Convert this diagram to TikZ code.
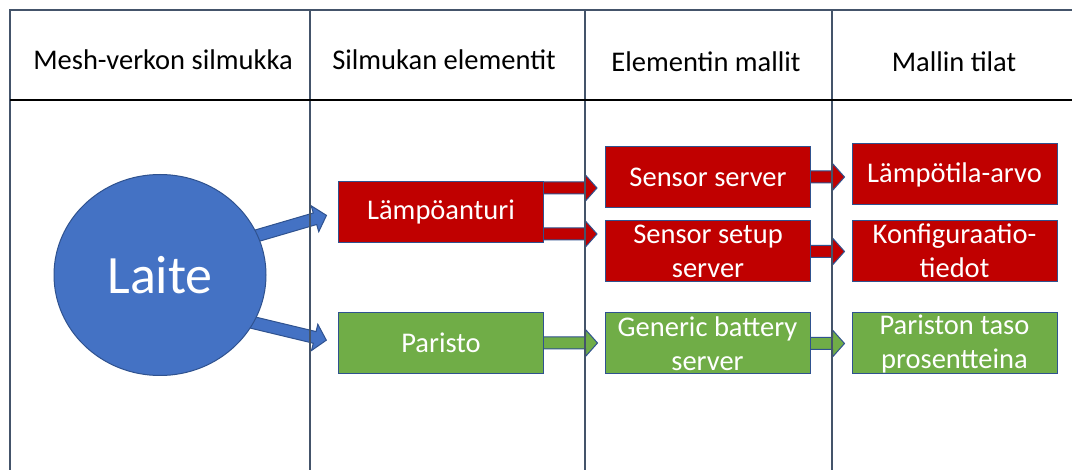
\documentclass[tikz,border=0pt]{standalone}
\usepackage{fontspec}
\setmainfont{Carlito}
\usetikzlibrary{shapes.geometric,calc}
\pgfdeclarelayer{bg}
\pgfsetlayers{bg,main}
\definecolor{gridline}{HTML}{44546A}
\definecolor{boxred}{HTML}{C00000}
\definecolor{boxgreen}{HTML}{70AD47}
\definecolor{devblue}{HTML}{4472C4}
\definecolor{edgeblue}{HTML}{2F528F}
% block arrow: fill colour, start point, tip point
\newcommand\fatarrow[3]{%
  \coordinate (fa-s) at (#2);
  \coordinate (fa-t) at (#3);
  \coordinate (fa-h) at ($(fa-t)!12pt!(fa-s)$);
  \filldraw[fill=#1, draw=edgeblue, line width=1pt, line join=miter]
    ($(fa-s)!6pt!90:(fa-t)$) -- ($(fa-h)!6pt!90:(fa-t)$) -- ($(fa-h)!13.5pt!90:(fa-t)$)
    -- (fa-t) -- ($(fa-h)!13.5pt!-90:(fa-t)$) -- ($(fa-h)!6pt!-90:(fa-t)$)
    -- ($(fa-s)!6pt!-90:(fa-t)$) -- cycle;
}
\tikzset{
  head/.style={anchor=base, font=\fontsize{28.5}{34}\selectfont},
  box/.style={minimum width=205pt, minimum height=61pt, inner sep=0pt, align=center,
    text=white, draw=edgeblue, line width=1pt, font=\fontsize{28.5}{34}\selectfont},
  redbox/.style={box, fill=boxred},
  greenbox/.style={box, fill=boxgreen},
  rule/.style={draw=gridline, line width=2pt}
}
\begin{document}
\begin{tikzpicture}[x=1pt, y=-1pt]
\useasboundingbox (0,0) rectangle (1072,470);

% table frame and columns
\draw[rule] (10,470) -- (10,10) -- (1072,10);
\draw[rule] (310,10) -- (310,470);
\draw[rule] (585,10) -- (585,470);
\draw[rule] (832,10) -- (832,470);
\draw[black, line width=2pt] (10,100) -- (1072,100);

% column headings
\node[head] (h1) at (163,70) {Mesh-verkon silmukka};
\node[head] (h2) at (444,70) {Silmukan elementit};
\node[head] (h3) at (706,72) {Elementin mallit};
\node[head] (h4) at (954,72) {Mallin tilat};

% device
\node[ellipse, fill=devblue, draw=edgeblue, line width=1pt, minimum width=212pt,
      minimum height=201pt, inner sep=0pt, text=white,
      font=\fontsize{54}{60}\selectfont] (laite) at (160,275) {Laite};

% elements
\node[redbox] (lamp) at (441,212) {Lämpöanturi};
\node[greenbox] (par) at (441,343) {Paristo};

% models
\node[redbox] (ss) at (708,177) {Sensor server};
\node[redbox] (ssu) at (708,251.5) {Sensor setup\\server};
\node[greenbox] (gbs) at (707.5,343.5) {Generic battery\\server};

% states
\node[redbox] (lt) at (954.5,174.5) {Lämpötila-arvo};
\node[redbox] (kt) at (954.5,251) {Konfiguraatio-\\tiedot};
\node[greenbox] (pt) at (954.5,343.5) {Pariston taso\\prosentteina};

% white page and block arrows behind everything
\begin{pgfonlayer}{bg}
\fill[white] (0,0) rectangle (1072,470);
\fatarrow{devblue}{$(laite.22)!-15pt!(lamp.west)$}{$(lamp.west)!12pt!(laite.22)$}
\fatarrow{devblue}{$(laite.-27)!-15pt!(par.west)$}{$(par.west)!12pt!(laite.-27)$}
\fatarrow{boxred}{[xshift=-3pt,yshift=24pt]lamp.east}{[xshift=-8pt,yshift=24pt]lamp.east -| ss.west}
\fatarrow{boxred}{[xshift=-3pt,yshift=-22pt]lamp.east}{[xshift=-8pt,yshift=-22pt]lamp.east -| ssu.west}
\fatarrow{boxred}{[xshift=-3pt]ss.east}{[xshift=-7pt]ss.east -| lt.west}
\fatarrow{boxred}{[xshift=-3pt]ssu.east}{[xshift=-7pt]ssu.east -| kt.west}
\fatarrow{boxgreen}{[xshift=-3pt]par.east}{[xshift=-7pt]par.east -| gbs.west}
\fatarrow{boxgreen}{[xshift=-3pt]gbs.east}{[xshift=-7pt]gbs.east -| pt.west}
\end{pgfonlayer}
\end{tikzpicture}
\end{document}
